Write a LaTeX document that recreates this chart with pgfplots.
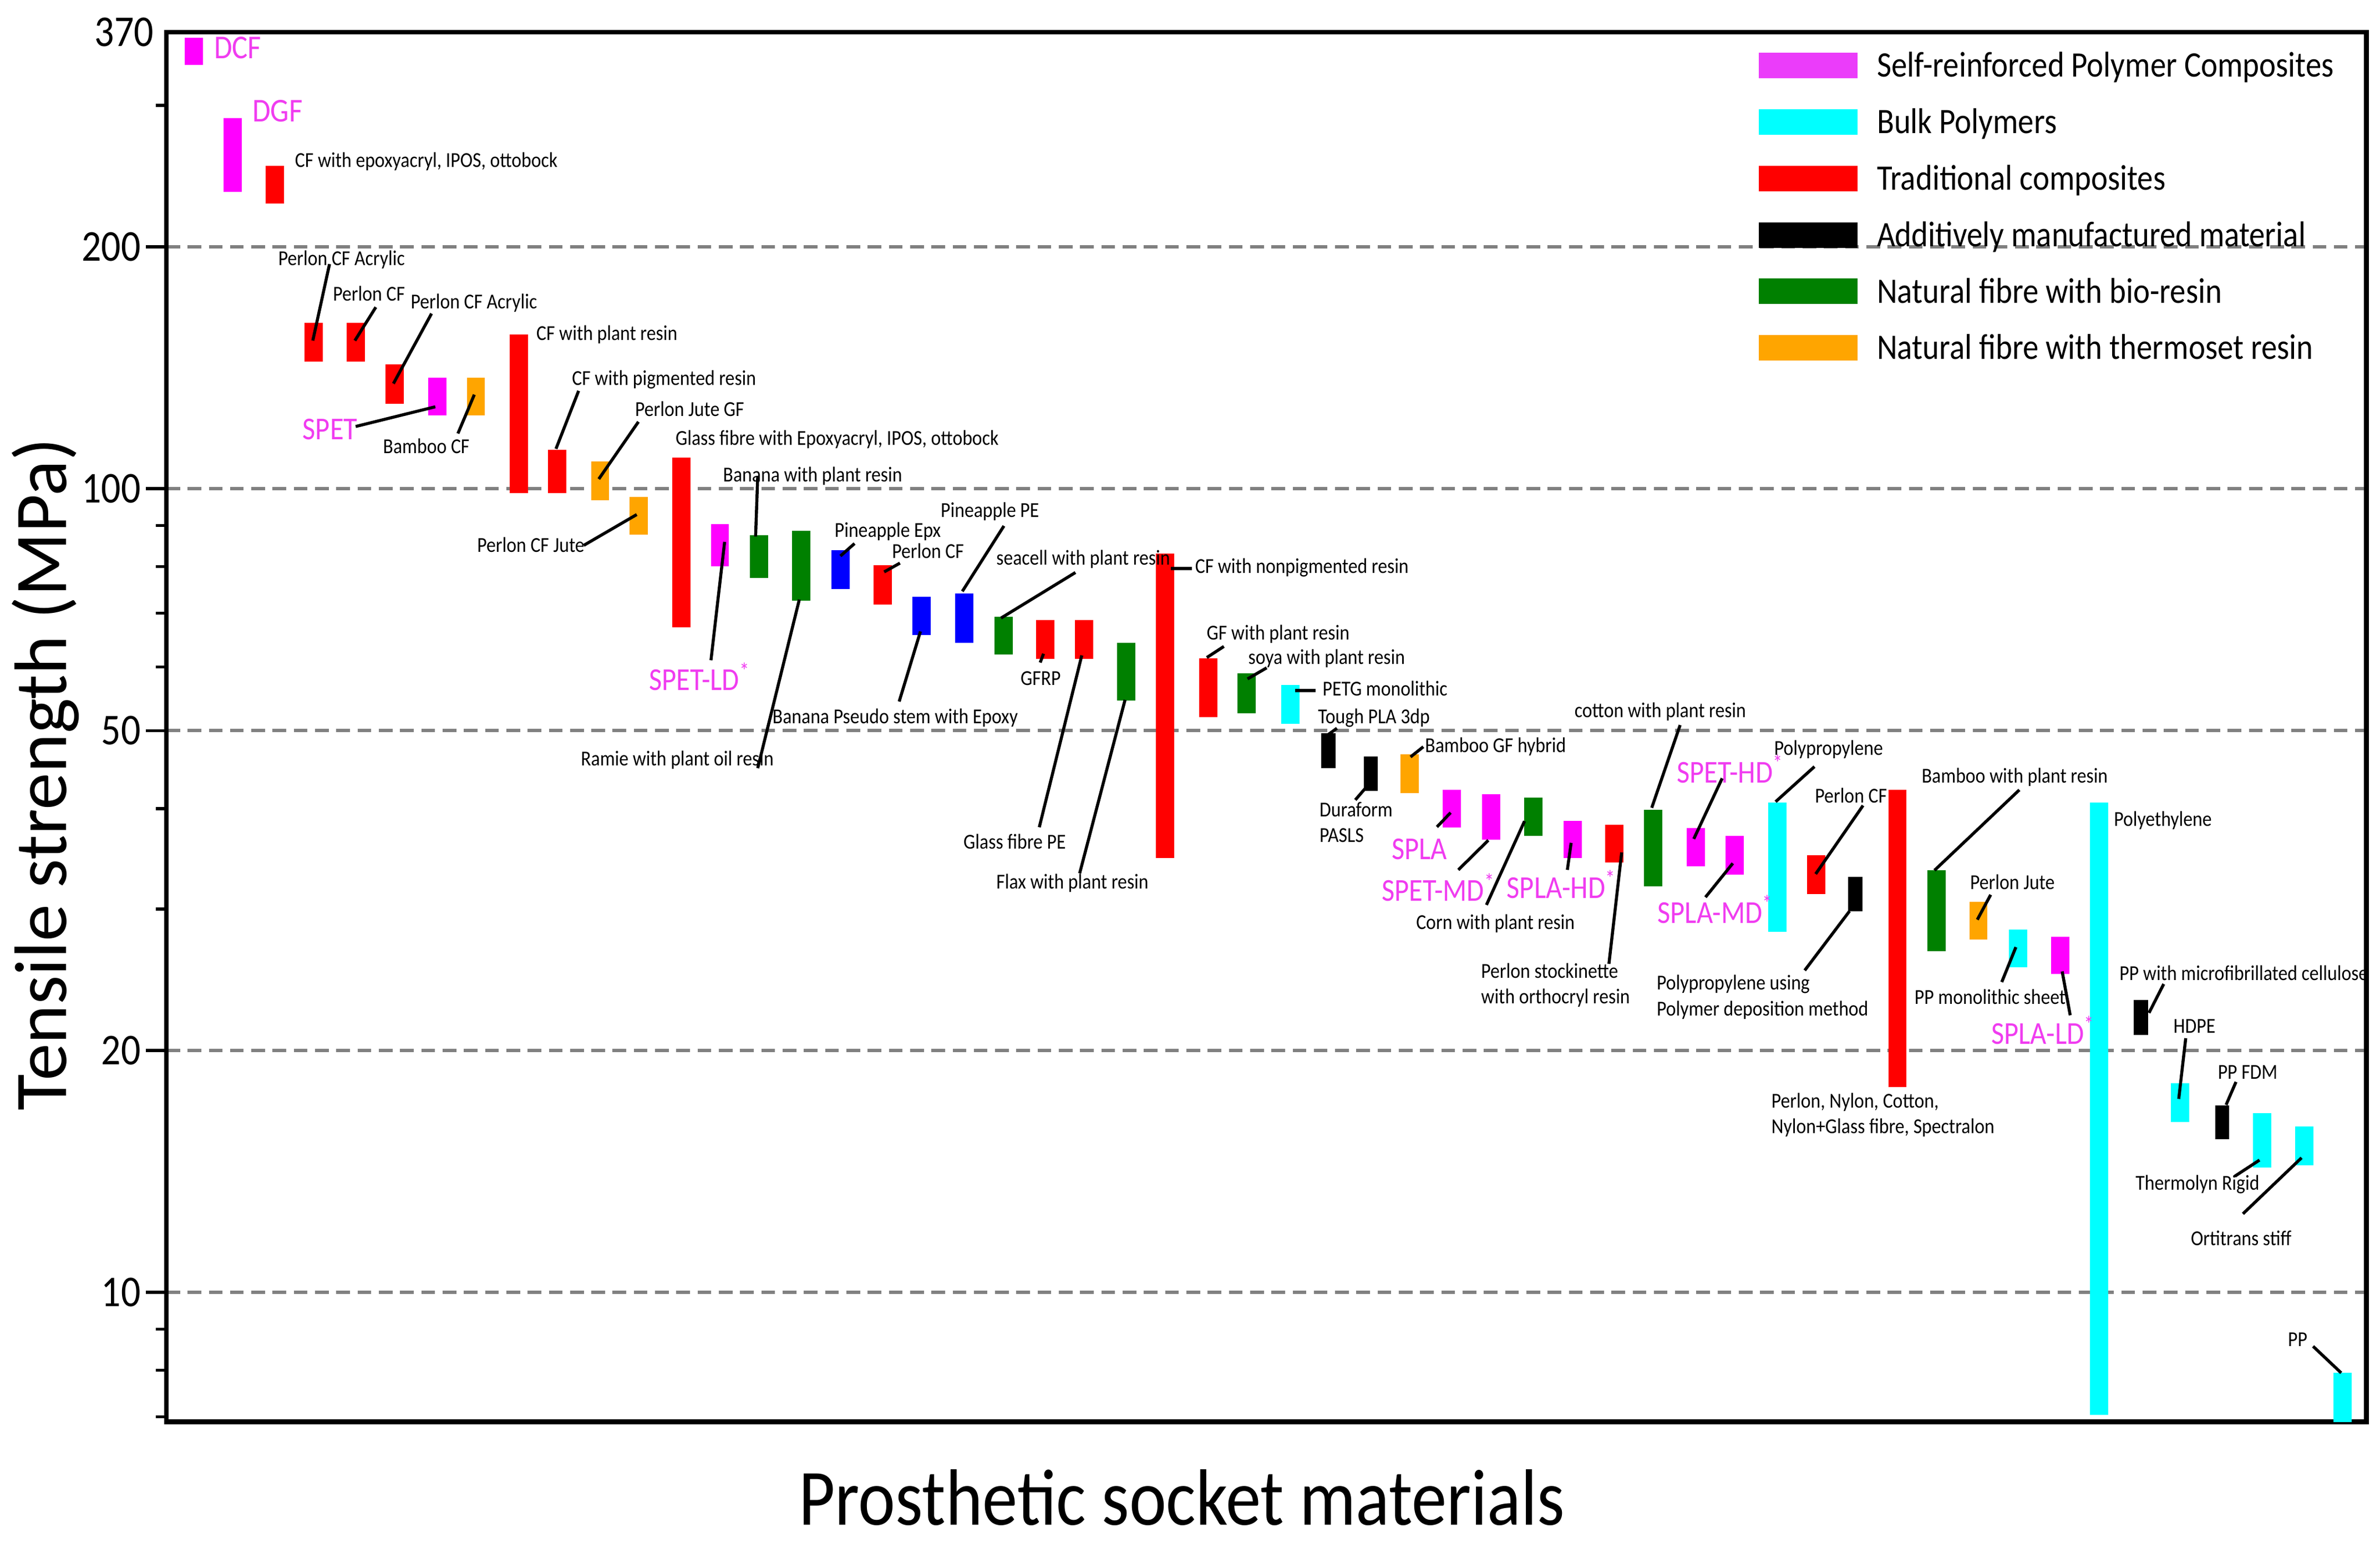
\documentclass[border=0pt]{standalone}
\usepackage{fontspec}
\setmainfont{Carlito}
\newfontfamily\cond{Carlito}[FakeStretch=0.88]
\usepackage{pgfplots}
\pgfplotsset{compat=1.18}

\definecolor{srpc}{RGB}{255,0,255}
\definecolor{srpclegend}{RGB}{235,60,250}
\definecolor{bulk}{RGB}{0,255,255}
\definecolor{trad}{RGB}{255,0,0}
\definecolor{natbio}{RGB}{0,128,0}
\definecolor{natth}{RGB}{255,165,0}
\definecolor{bluebar}{RGB}{0,0,255}
\definecolor{labmag}{RGB}{240,60,240}
\definecolor{gridgray}{RGB}{128,128,128}

\tikzset{
  lab/.style={font=\cond\fontsize{7}{8.5}\selectfont, inner sep=0pt, anchor=west},
  mlab/.style={font=\cond\fontsize{10.5}{12}\selectfont, text=labmag, inner sep=0pt, anchor=west},
  lead/.style={black, line width=1pt},
}

\begin{document}
\begin{tikzpicture}
% main axis: x runs in picture units (no ticks), y is tensile strength in MPa
\begin{axis}[
    scale only axis,
    width=724.7pt, height=457.8pt,
    xmin=109.6, xmax=1559,
    ymode=log, ymin=6.9, ymax=370,
    xtick=\empty,
    ytick={10,20,50,100,200},
    yticklabels={10,20,50,100,200},
    minor ytick={7,8,9,30,40,60,70,80,90,300},
    extra y ticks={370}, extra y tick labels={370},
    extra y tick style={major tick length=0pt, grid=none, yticklabel style={xshift=-2.5pt}},
    /pgf/number format/assume math mode=true,
    yticklabel style={font=\cond\fontsize{14.5}{15}\selectfont, inner xsep=1.5pt},
    tick align=outside, tick pos=left,
    major tick length=6.8pt, minor tick length=3.4pt,
    tick style={black, line width=1pt},
    ymajorgrids,
    major grid style={gridgray, line width=1.05pt, dash pattern=on 4.5pt off 2.5pt},
    axis line style={line width=1.6pt},
    xlabel={Prosthetic socket materials},
    xlabel style={font=\cond\fontsize{26.3}{28}\selectfont, at={(axis description cs:0.4615,0)}, anchor=base, yshift=-34pt, inner sep=0pt},
    ylabel={Tensile strength (MPa)},
    ylabel style={font=\fontsize{24.5}{26}\selectfont, at={(axis description cs:-0.0454,0.466)}, anchor=base, inner sep=0pt},
    legend style={draw=none, fill=none, at={(axis description cs:0.7236,0.9867)}, anchor=north west,
        inner sep=0pt, row sep=7.6pt, column sep=6.5pt,
        font=\cond\fontsize{11.8}{14}\selectfont,
        nodes={inner sep=0pt, text height=8.5pt, text depth=2.5pt}},
    legend cell align=left,
    legend image code/.code={\fill[#1] (0pt,-3.2pt) rectangle (32pt,4.8pt);},
]

% Self-reinforced polymer composites
\addplot[srpc, line width=6pt, forget plot, unbounded coords=jump] coordinates {
    (127.6,337) (127.6,364) (127.6,nan)     % DCF
    (153.2,234) (153.2,289) (153.2,nan)     % DGF
    (288.0,123.3) (288.0,137.5) (288.0,nan) % SPET
    (474.3,80.1) (474.3,90.4) (474.3,nan)   % SPET-LD
    (956.5,37.9) (956.5,42.2) (956.5,nan)   % SPLA
    (982.5,36.6) (982.5,41.7) (982.5,nan)   % SPET-MD
    (1036,34.7) (1036,38.6) (1036,nan)      % SPLA-HD
    (1117.2,33.9) (1117.2,37.8) (1117.2,nan) % SPET-HD
    (1142.9,33.1) (1142.9,37.0) (1142.9,nan) % SPLA-MD
    (1357.2,24.9) (1357.2,27.7) (1357.2,nan) % SPLA-LD
};

% Bulk polymers
\addplot[bulk, line width=6pt, forget plot, unbounded coords=jump] coordinates {
    (850,51.0) (850,57.0) (850,nan)         % PETG monolithic
    (1171,28.1) (1171,40.7) (1171,nan)      % Polypropylene
    (1329.5,25.4) (1329.5,28.3) (1329.5,nan) % PP monolithic sheet
    (1382.8,7.04) (1382.8,40.7) (1382.8,nan) % Polyethylene
    (1436.4,16.3) (1436.4,18.2) (1436.4,nan) % HDPE
    (1490.2,14.3) (1490.2,16.7) (1490.2,nan) % Thermolyn Rigid
    (1518,14.4) (1518,16.1) (1518,nan)      % Ortitrans stiff
    (1543.4,6.9) (1543.4,7.95) (1543.4,nan) % PP
};

% Traditional composites
\addplot[trad, line width=6pt, forget plot, unbounded coords=jump] coordinates {
    (181.1,226.5) (181.1,252.3) (181.1,nan) % CF epoxyacryl
    (206.7,143.9) (206.7,160.8) (206.7,nan) % Perlon CF Acrylic
    (234.4,143.9) (234.4,160.8) (234.4,nan) % Perlon CF
    (260.0,127.5) (260.0,142.7) (260.0,nan) % Perlon CF Acrylic
    (341.8,98.7) (341.8,155.5) (341.8,nan)  % CF plant resin
    (367.2,98.7) (367.2,111.8) (367.2,nan)  % CF pigmented resin
    (448.9,67.2) (448.9,109.3) (448.9,nan)  % Glass fibre epoxyacryl
    (581.7,71.8) (581.7,80.3) (581.7,nan)   % Perlon CF
    (688.7,61.4) (688.7,68.6) (688.7,nan)   % GFRP
    (714.2,61.4) (714.2,68.6) (714.2,nan)   % Glass fibre PE
    (767.6,34.7) (767.6,83.0) (767.6,nan)   % CF nonpigmented resin
    (796.0,52.0) (796.0,61.5) (796.0,nan)   % GF plant resin
    (1063.4,34.3) (1063.4,38.2) (1063.4,nan) % Perlon stockinette
    (1196.5,31.3) (1196.5,35.0) (1196.5,nan) % Perlon CF
    (1250.1,18.0) (1250.1,42.2) (1250.1,nan) % Perlon, Nylon, Cotton...
};

% Additively manufactured
\addplot[black, line width=4.7pt, forget plot, unbounded coords=jump] coordinates {
    (875.2,44.9) (875.2,49.6) (875.2,nan)   % Tough PLA 3dp
    (903.1,42.1) (903.1,46.4) (903.1,nan)   % Duraform PASLS
    (1222.4,29.8) (1222.4,32.9) (1222.4,nan) % PP polymer deposition
    (1410.5,20.9) (1410.5,23.1) (1410.5,nan) % PP microfibrillated cellulose
    (1464.0,15.5) (1464.0,17.1) (1464.0,nan) % PP FDM
};

% Natural fibre with bio-resin
\addplot[natbio, line width=6pt, forget plot, unbounded coords=jump] coordinates {
    (500.2,77.5) (500.2,87.5) (500.2,nan)   % Banana
    (527.9,72.6) (527.9,88.6) (527.9,nan)   % Ramie
    (661.1,62.2) (661.1,69.3) (661.1,nan)   % seacell
    (742.0,54.5) (742.0,64.3) (742.0,nan)   % Flax
    (821.4,52.6) (821.4,58.9) (821.4,nan)   % soya
    (1010.1,37.0) (1010.1,41.3) (1010.1,nan) % Corn
    (1089.2,32.0) (1089.2,39.9) (1089.2,nan) % cotton
    (1275.9,26.6) (1275.9,33.5) (1275.9,nan) % Bamboo
};

% Natural fibre with thermoset resin
\addplot[natth, line width=6pt, forget plot, unbounded coords=jump] coordinates {
    (313.5,123.3) (313.5,137.5) (313.5,nan) % Bamboo CF
    (395.4,96.8) (395.4,108.1) (395.4,nan)  % Perlon Jute GF
    (420.9,87.7) (420.9,97.7) (420.9,nan)   % Perlon CF Jute
    (928.6,41.8) (928.6,46.7) (928.6,nan)   % Bamboo GF hybrid
    (1303.4,27.5) (1303.4,30.6) (1303.4,nan) % Perlon Jute
};

% blue bars (no legend entry)
\addplot[bluebar, line width=6pt, forget plot, unbounded coords=jump] coordinates {
    (553.7,75.0) (553.7,83.8) (553.7,nan)   % Pineapple Epx
    (607.1,65.8) (607.1,73.4) (607.1,nan)   % Banana pseudo stem
    (635.2,64.3) (635.2,74.1) (635.2,nan)   % Pineapple PE
};

\addlegendimage{srpclegend}
\addlegendentry{Self-reinforced Polymer Composites}
\addlegendimage{bulk}
\addlegendentry{Bulk Polymers}
\addlegendimage{trad}
\addlegendentry{Traditional composites}
\addlegendimage{black}
\addlegendentry{Additively manufactured material}
\addlegendimage{natbio}
\addlegendentry{Natural fibre with bio-resin}
\addlegendimage{natth}
\addlegendentry{Natural fibre with thermoset resin}
\end{axis}

% annotation layer: same box, coordinates in picture units (y downwards)
\begin{axis}[
    scale only axis,
    width=724.7pt, height=457.8pt,
    xmin=109.6, xmax=1559, ymin=21.2, ymax=936.8,
    y dir=reverse, hide axis, clip=false,
]
\node[mlab, font=\cond\fontsize{11}{12}\selectfont] at (axis cs:140.7,31.5) {DCF};
\node[mlab, font=\cond\fontsize{11}{12}\selectfont] at (axis cs:166,73) {DGF};
\node[lab] at (axis cs:194,106.5) {CF with epoxyacryl, IPOS, ottobock};
\node[lab] at (axis cs:183,171) {Perlon CF Acrylic};
\draw[lead] (axis cs:217.1,174) -- (axis cs:206.1,224.4);
\node[lab] at (axis cs:219,193.5) {Perlon CF};
\draw[lead] (axis cs:247.6,202.4) -- (axis cs:233.8,224.4);
\node[lab] at (axis cs:270.2,199.5) {Perlon CF Acrylic};
\draw[lead] (axis cs:284.3,206.6) -- (axis cs:259.2,252.7);
\node[mlab] at (axis cs:199,283) {SPET};
\draw[lead] (axis cs:234.3,281) -- (axis cs:286.8,268);
\node[lab] at (axis cs:252,294) {Bamboo CF};
\draw[lead] (axis cs:301.7,285.6) -- (axis cs:312.5,260);
\node[lab] at (axis cs:353,220.5) {CF with plant resin};
\node[lab] at (axis cs:376.5,250) {CF with pigmented resin};
\draw[lead] (axis cs:381.2,257.5) -- (axis cs:366.3,295.7);
\node[lab] at (axis cs:418,269.5) {Perlon Jute GF};
\draw[lead] (axis cs:420.6,277.9) -- (axis cs:394.5,315.6);
\node[lab] at (axis cs:444.7,289.5) {Glass fibre with Epoxyacryl, IPOS, ottobock};
\node[lab] at (axis cs:476,313.5) {Banana with plant resin};
\draw[lead] (axis cs:499.2,314) -- (axis cs:497.8,353.5);
\node[lab] at (axis cs:314,359) {Perlon CF Jute};
\draw[lead] (axis cs:384.6,359.3) -- (axis cs:419.5,339);
\node[mlab] at (axis cs:427.3,445.8) {SPET-LD\textsuperscript{*}};
\draw[lead] (axis cs:468.4,435) -- (axis cs:477.4,357);
\node[lab] at (axis cs:382.3,500.8) {Ramie with plant oil resin};
\draw[lead] (axis cs:499.2,506.1) -- (axis cs:526.6,395);
\node[lab] at (axis cs:549.5,350) {Pineapple Epx};
\draw[lead] (axis cs:563,358.1) -- (axis cs:553.7,366.3);
\node[lab] at (axis cs:587.3,363) {Perlon CF};
\draw[lead] (axis cs:592.9,371) -- (axis cs:582.5,376.8);
\node[lab] at (axis cs:619.4,337) {Pineapple PE};
\draw[lead] (axis cs:661.4,346.5) -- (axis cs:634,389.6);
\node[lab] at (axis cs:656,368.5) {seacell with plant resin};
\draw[lead] (axis cs:708.5,377.2) -- (axis cs:659.5,407.2);
\node[lab] at (axis cs:508.6,473) {Banana Pseudo stem with Epoxy};
\draw[lead] (axis cs:592.4,462.2) -- (axis cs:606.4,416);
\node[lab] at (axis cs:672,447) {GFRP};
\draw[lead] (axis cs:685.3,436.5) -- (axis cs:687.5,430.7);
\node[lab] at (axis cs:634.4,554.5) {Glass fibre PE};
\draw[lead] (axis cs:684.7,545) -- (axis cs:712.7,431.8);
\node[lab] at (axis cs:656,582) {Flax with plant resin};
\draw[lead] (axis cs:711.3,575.4) -- (axis cs:741.2,461.1);
\node[lab] at (axis cs:787,374) {CF with nonpigmented resin};
\draw[lead] (axis cs:771.4,374.5) -- (axis cs:785.4,374.5);
\node[lab] at (axis cs:794.6,417.8) {GF with plant resin};
\draw[lead] (axis cs:806.3,425.9) -- (axis cs:795.1,433.2);
\node[lab] at (axis cs:822,434) {soya with plant resin};
\draw[lead] (axis cs:834.5,440) -- (axis cs:821.9,447.3);
\node[lab] at (axis cs:871,453.5) {PETG monolithic};
\draw[lead] (axis cs:853.2,455) -- (axis cs:866.7,455);
\node[lab] at (axis cs:868,473) {Tough PLA 3dp};
\draw[lead] (axis cs:880.8,479.8) -- (axis cs:875,484);
\node[lab, align=left] at (axis cs:869,541.7) {Duraform\\PASLS};
\draw[lead] (axis cs:892.9,527) -- (axis cs:899.3,519.6);
\node[lab] at (axis cs:938.5,491.8) {Bamboo GF hybrid};
\draw[lead] (axis cs:937.7,492) -- (axis cs:929.3,498.7);
\node[mlab] at (axis cs:916.5,559.6) {SPLA};
\draw[lead] (axis cs:946.7,544.8) -- (axis cs:955.7,535.4);
\node[mlab] at (axis cs:910,584.6) {SPET-MD\textsuperscript{*}};
\draw[lead] (axis cs:960.8,573.1) -- (axis cs:980.5,553.6);
\node[lab] at (axis cs:932.6,608.5) {Corn with plant resin};
\draw[lead] (axis cs:979.3,596.2) -- (axis cs:1004.4,541);
\node[mlab] at (axis cs:992.3,582.5) {SPLA-HD\textsuperscript{*}};
\draw[lead] (axis cs:1032.6,573.1) -- (axis cs:1035.1,555.3);
\node[lab, align=left] at (axis cs:975.4,649) {Perlon stockinette\\with orthocryl resin};
\draw[lead] (axis cs:1060,635) -- (axis cs:1068.4,561.6);
\node[lab] at (axis cs:1037,469) {cotton with plant resin};
\draw[lead] (axis cs:1106.9,477.7) -- (axis cs:1088.2,532.2);
\node[mlab] at (axis cs:1104.4,506.5) {SPET-HD\textsuperscript{*}};
\draw[lead] (axis cs:1134.6,512.8) -- (axis cs:1115.9,552.7);
\node[mlab] at (axis cs:1091.6,599) {SPLA-MD\textsuperscript{*}};
\draw[lead] (axis cs:1123.6,591.1) -- (axis cs:1141.6,568.8);
\node[lab] at (axis cs:1168.5,493.7) {Polypropylene};
\draw[lead] (axis cs:1195.4,505.1) -- (axis cs:1169.8,528.2);
\node[lab] at (axis cs:1195.4,524.3) {Perlon CF};
\draw[lead] (axis cs:1227.4,530.7) -- (axis cs:1196.2,575.8);
\node[lab, align=left] at (axis cs:1091.1,657) {Polypropylene using\\Polymer deposition method};
\draw[lead] (axis cs:1189,639.3) -- (axis cs:1218.5,600.3);
\node[lab, align=left] at (axis cs:1166.7,734.5) {Perlon, Nylon, Cotton,\\Nylon+Glass fibre, Spectralon};
\node[lab] at (axis cs:1265.7,512) {Bamboo with plant resin};
\draw[lead] (axis cs:1330.4,520.4) -- (axis cs:1274.5,573.4);
\node[lab] at (axis cs:1297.6,581.3) {Perlon Jute};
\draw[lead] (axis cs:1311.5,589.5) -- (axis cs:1302.7,605.9);
\node[lab] at (axis cs:1261,656.7) {PP monolithic sheet};
\draw[lead] (axis cs:1318.8,647) -- (axis cs:1328.1,624);
\node[mlab] at (axis cs:1311.5,678.7) {SPLA-LD\textsuperscript{*}};
\draw[lead] (axis cs:1363.9,668.9) -- (axis cs:1358.6,640);
\node[lab] at (axis cs:1392.3,540.5) {Polyethylene};
\node[lab] at (axis cs:1396,641) {PP with microfibrillated cellulose};
\draw[lead] (axis cs:1425.5,648.3) -- (axis cs:1415.8,667.3);
\node[lab] at (axis cs:1431.5,676) {HDPE};
\draw[lead] (axis cs:1440,684) -- (axis cs:1435.4,724);
\node[lab] at (axis cs:1460.8,706.3) {PP FDM};
\draw[lead] (axis cs:1473.1,712.8) -- (axis cs:1466.6,727.9);
\node[lab] at (axis cs:1406.6,780.2) {Thermolyn Rigid};
\draw[lead] (axis cs:1472.4,774.9) -- (axis cs:1488.6,764.3);
\node[lab] at (axis cs:1443,815.8) {Ortitrans stiff};
\draw[lead] (axis cs:1477.7,799.7) -- (axis cs:1516.3,762.8);
\node[lab] at (axis cs:1507,882.4) {PP};
\draw[lead] (axis cs:1523.9,887) -- (axis cs:1542.4,904.5);
\end{axis}

\pgfresetboundingbox
\path (-54.8pt,-39.8pt) rectangle (729.2pt,468.4pt);
\end{tikzpicture}
\end{document}
